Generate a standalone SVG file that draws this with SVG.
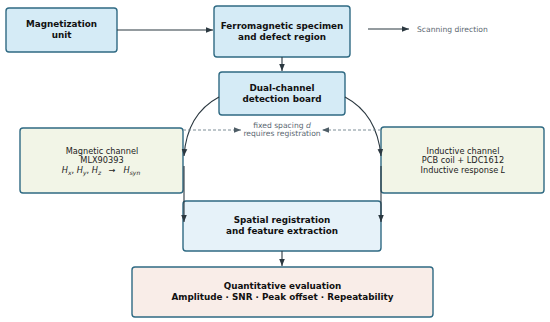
<svg xmlns="http://www.w3.org/2000/svg" width="550" height="322" viewBox="0 0 550 322">
<defs>
<marker id="ah" viewBox="0 0 10 10" refX="10" refY="5" markerWidth="7" markerHeight="7" markerUnits="userSpaceOnUse" orient="auto"><path d="M0,1 L10,5 L0,9 z" fill="#2b3840"/></marker>
<marker id="ahg" viewBox="0 0 10 10" refX="10" refY="5" markerWidth="7" markerHeight="7" markerUnits="userSpaceOnUse" orient="auto"><path d="M0,1 L10,5 L0,9 z" fill="#4e5d66"/></marker>
</defs>
<style>
.box{stroke:#2f6a83;stroke-width:1.4}
.blue{fill:#d5ebf6}
.green{fill:#f2f5e7}
.light{fill:#e6f2f9}
.pink{fill:#f9ede8}
.b{font-family:"DejaVu Sans",sans-serif;font-weight:bold;font-size:8.8px;fill:#111;text-anchor:middle}
.r{font-family:"DejaVu Sans",sans-serif;font-size:8.2px;fill:#222;text-anchor:middle}
.g{font-family:"DejaVu Sans",sans-serif;font-size:7.6px;fill:#5b6872;text-anchor:middle}
.con{stroke:#2b3840;stroke-width:1.1;fill:none}
.dash{stroke:#7d8d96;stroke-width:1;stroke-dasharray:3,2;fill:none}
</style>
<g id="magnetization">
<rect class="box blue" x="6" y="8" width="111" height="44" rx="3"/>
<text class="b" x="61.5" y="27">Magnetization</text>
<text class="b" x="61.5" y="37.5">unit</text>
</g>
<g id="specimen">
<rect class="box blue" x="214" y="6" width="136" height="51" rx="3"/>
<text class="b" x="282" y="29">Ferromagnetic specimen</text>
<text class="b" x="282" y="39.5">and defect region</text>
</g>
<g id="board">
<rect class="box blue" x="219" y="72" width="126" height="43" rx="3"/>
<text class="b" x="282" y="91">Dual-channel</text>
<text class="b" x="282" y="101.5">detection board</text>
</g>
<g id="magnetic">
<rect class="box green" x="20" y="128" width="163" height="65" rx="3"/>
<text class="r" x="102" y="154">Magnetic channel</text>
<text class="r" x="102" y="163">MLX90393</text>
<text class="r" x="101" y="173"><tspan font-style="italic">H</tspan><tspan font-style="italic" font-size="6px" dy="1.5">x</tspan><tspan dy="-1.5">, </tspan><tspan font-style="italic">H</tspan><tspan font-style="italic" font-size="6px" dy="1.5">y</tspan><tspan dy="-1.5">, </tspan><tspan font-style="italic">H</tspan><tspan font-style="italic" font-size="6px" dy="1.5">z</tspan><tspan dy="-1.5" xml:space="preserve">   →   </tspan><tspan font-style="italic">H</tspan><tspan font-style="italic" font-size="6px" dy="1.5">syn</tspan></text>
</g>
<g id="inductive">
<rect class="box green" x="381" y="127" width="163" height="66" rx="3"/>
<text class="r" x="463" y="154">Inductive channel</text>
<text class="r" x="463" y="163">PCB coil + LDC1612</text>
<text class="r" x="463" y="173">Inductive response <tspan font-style="italic">L</tspan></text>
</g>
<g id="spatial">
<rect class="box light" x="183" y="201" width="198" height="50" rx="3"/>
<text class="b" x="282" y="223">Spatial registration</text>
<text class="b" x="282" y="234">and feature extraction</text>
</g>
<g id="quant">
<rect class="box pink" x="132" y="267" width="301" height="50" rx="3"/>
<text class="b" x="282.5" y="289">Quantitative evaluation</text>
<text class="b" x="282.5" y="299.5">Amplitude · SNR · Peak offset · Repeatability</text>
</g>
<g id="connectors">
<line class="con" x1="117" y1="30" x2="213" y2="30" marker-end="url(#ah)"/>
<line class="con" x1="368" y1="29" x2="409" y2="29" marker-end="url(#ah)"/>
<line class="con" x1="282" y1="57" x2="282" y2="71" marker-end="url(#ah)"/>
<path class="con" d="M219,97 Q187,114 184,156" marker-end="url(#ah)"/>
<path class="con" d="M345,97 Q377,114 381,156" marker-end="url(#ah)"/>
<line class="con" x1="184" y1="166" x2="184" y2="222" marker-end="url(#ah)"/>
<line class="con" x1="381" y1="166" x2="381" y2="222" marker-end="url(#ah)"/>
<line class="con" x1="282" y1="251" x2="282" y2="266" marker-end="url(#ah)"/>
<line class="dash" x1="183" y1="130" x2="241" y2="130" marker-end="url(#ahg)"/>
<line class="dash" x1="381" y1="130" x2="322" y2="130" marker-end="url(#ahg)"/>
</g>
<text class="g" x="417" y="32" style="text-anchor:start">Scanning direction</text>
<text class="g" x="282" y="128">fixed spacing <tspan font-style="italic">d</tspan></text>
<text class="g" x="282" y="136">requires registration</text>
</svg>
